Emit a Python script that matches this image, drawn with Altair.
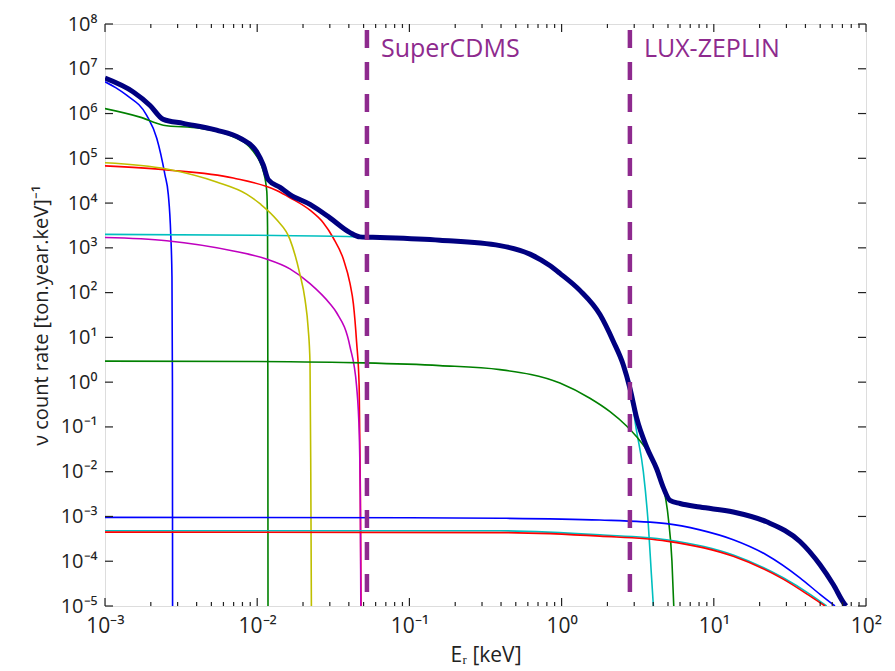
import altair as alt
import pandas as pd

# Readings are log10 values (x: log10 keV, y: log10 rate)
blue1_lx = [-3.0, -2.93, -2.858, -2.726, -2.66, -2.606, -2.584, -2.568, -2.56, -2.557, -2.556]
blue1_ly = [6.71, 6.58, 6.41, 5.96, 5.45, 4.63, 4.19, 3.3, 2.35, 0.0, -5.0]

green1_lx = [-3.0, -2.77, -2.617, -2.376, -2.157, -2.025, -1.96, -1.937, -1.932, -1.930, -1.929]
green1_ly = [6.11, 5.92, 5.74, 5.67, 5.48, 5.15, 4.71, 4.26, 3.46, 0.0, -5.0]

yellow_lx = [-3.0, -2.595, -2.267, -2.07, -1.98, -1.87, -1.785, -1.72, -1.686, -1.665, -1.653, -1.648, -1.644]
yellow_ly = [4.90, 4.76, 4.47, 4.20, 3.98, 3.62, 3.19, 2.42, 1.85, 1.2, 0.43, -2.0, -5.0]

red1_lx = [-3.0, -2.595, -2.157, -1.872, -1.785, -1.653, -1.566, -1.50, -1.434, -1.39, -1.368, -1.347, -1.33, -1.322, -1.318]
red1_ly = [4.83, 4.74, 4.56, 4.28, 4.12, 3.84, 3.56, 3.22, 2.75, 2.20, 1.75, 0.90, -0.10, -2.5, -5.0]

magenta_lx = [-3.0, -2.595, -2.157, -1.94, -1.785, -1.653, -1.522, -1.478, -1.39, -1.347, -1.329, -1.322, -1.319]
magenta_ly = [3.23, 3.16, 2.93, 2.75, 2.53, 2.20, 1.75, 1.55, 0.79, -0.09, -1.20, -3.0, -5.0]

cyan1_lx = [-3.0, -2.0, -1.5, -1.193, -0.8, -0.405, -0.208, -0.08, -0.011, 0.12, 0.252, 0.34, 0.405, 0.45, 0.493, 0.537, 0.57, 0.59, 0.603]
cyan1_ly = [3.30, 3.28, 3.26, 3.23, 3.16, 3.04, 2.85, 2.60, 2.42, 2.04, 1.50, 0.90, 0.38, -0.18, -1.1, -2.0, -3.2, -4.3, -5.0]

green2_lx = [-3.0, -2.0, -1.3, -0.8, -0.405, -0.011, 0.186, 0.318, 0.427, 0.493, 0.56, 0.625, 0.646, 0.70, 0.725, 0.737]
green2_ly = [0.47, 0.46, 0.43, 0.37, 0.28, -0.02, -0.36, -0.66, -0.98, -1.22, -1.52, -1.95, -2.12, -3.0, -4.0, -5.0]

blue2_lx = [-3.0, -1.0, -0.405, 0.252, 0.69, 0.909, 1.128, 1.347, 1.566, 1.698, 1.796]
blue2_ly = [-3.02, -3.03, -3.04, -3.08, -3.16, -3.30, -3.52, -3.86, -4.37, -4.74, -5.0]

cyan2_lx = [-3.0, -0.405, 0.252, 0.69, 1.128, 1.456, 1.633, 1.741]
cyan2_ly = [-3.32, -3.32, -3.41, -3.52, -3.86, -4.37, -4.74, -5.0]

red2_lx = [-3.0, -0.405, 0.252, 0.69, 1.128, 1.456, 1.633, 1.73]
red2_ly = [-3.35, -3.36, -3.44, -3.55, -3.89, -4.40, -4.78, -5.0]

total_lx = [-3.0, -2.814, -2.704, -2.617, -2.486, -2.267, -2.113, -2.004, -1.96, -1.927, -1.85, -1.785,
            -1.653, -1.522, -1.39, -1.325, -1.193, -0.8, -0.405, -0.208, -0.08, -0.011, 0.12, 0.252,
            0.34, 0.405, 0.45, 0.493, 0.56, 0.625, 0.668, 0.712, 0.778, 0.909, 1.128, 1.347, 1.566,
            1.698, 1.785, 1.862, 1.87]
total_ly = [6.79, 6.48, 6.18, 5.87, 5.78, 5.63, 5.45, 5.15, 4.85, 4.52, 4.35, 4.19,
            3.97, 3.67, 3.34, 3.245, 3.23, 3.17, 3.05, 2.86, 2.61, 2.43, 2.05, 1.51,
            0.91, 0.39, -0.15, -0.80, -1.46, -1.94, -2.35, -2.64, -2.71, -2.79, -2.90, -3.12, -3.56,
            -4.08, -4.52, -4.97, -5.0]

experiments = ["SuperCDMS", "LUX-ZEPLIN"]
experiment_thresholds = [0.0526, 2.81]

x_ticks_major = [1e-3, 1e-2, 1e-1, 1e0, 1e1, 1e2]
x_ticks_minor = [m * d for d in [1e-3, 1e-2, 1e-1, 1e0, 1e1] for m in range(2, 10)]
y_ticks_major = [10.0 ** k for k in range(-5, 9)]

series = [
    ("blue1", blue1_lx, blue1_ly, "#0000FF", 1.6),
    ("green1", green1_lx, green1_ly, "#008000", 1.6),
    ("red1", red1_lx, red1_ly, "#FF0000", 1.6),
    ("cyan1", cyan1_lx, cyan1_ly, "#00BFBF", 1.6),
    ("magenta", magenta_lx, magenta_ly, "#BF00BF", 1.6),
    ("yellow", yellow_lx, yellow_ly, "#BFBF00", 1.6),
    ("green2", green2_lx, green2_ly, "#008000", 1.6),
    ("blue2", blue2_lx, blue2_ly, "#0000FF", 1.6),
    ("cyan2", cyan2_lx, cyan2_ly, "#00BFBF", 1.6),
    ("red2", red2_lx, red2_ly, "#FF0000", 1.6),
    ("total", total_lx, total_ly, "#000080", 5.0),
]

W, H = 761, 582
FONT = "Open Sans"
PURPLE = "#8E2A8E"
INK = "#222222"

xscale = alt.Scale(type="log", domain=[1e-3, 1e2], nice=False)
yscale = alt.Scale(type="log", domain=[1e-5, 1e8], nice=False)

xsup = "['⁻³','⁻²','⁻¹','⁰','¹','²']"
ysup = "['⁻⁵','⁻⁴','⁻³','⁻²','⁻¹','⁰','¹','²','³','⁴','⁵','⁶','⁷','⁸']"

xaxis = alt.Axis(values=x_ticks_major, ticks=False, domain=False, grid=False,
                 labelExpr="'10' + " + xsup + "[round(log(datum.value)/LN10)+3]",
                 labelFont=FONT, labelFontSize=21, labelColor=INK, labelPadding=9,
                 title="Eᵣ [keV]", titleFont=FONT, titleFontSize=21, titleFontWeight="normal",
                 titleColor=INK, titlePadding=8, labelFlush=False)
yaxis = alt.Axis(values=y_ticks_major, ticks=False, domain=False, grid=False,
                 labelExpr="'10' + " + ysup + "[round(log(datum.value)/LN10)+5]",
                 labelFont=FONT, labelFontSize=20, labelColor=INK, labelPadding=8,
                 title="ν count rate [ton.year.keV]⁻¹", titleFont=FONT, titleFontSize=20,
                 titleFontWeight="normal", titleColor=INK, titlePadding=9, labelFlush=False)

X = lambda f="x:Q": alt.X(f, scale=xscale, axis=xaxis)
Y = lambda f="y:Q": alt.Y(f, scale=yscale, axis=yaxis)

layers = []
for name, lx, ly, color, w in series:
    df = pd.DataFrame({"x": [10.0 ** v for v in lx], "y": [10.0 ** v for v in ly], "order": range(len(lx))})
    layers.append(
        alt.Chart(df).mark_line(color=color, strokeWidth=w, clip=True, interpolate="monotone").encode(
            x=X(), y=Y(), order="order:Q")
    )

exp_df = pd.DataFrame({"x": experiment_thresholds, "name": experiments})
dashes = alt.Chart(exp_df).mark_rule(color=PURPLE, strokeWidth=4.5, strokeDash=[18, 14],
                                     strokeDashOffset=26).encode(x=X())
labels = alt.Chart(exp_df).mark_text(color=PURPLE, font=FONT, fontSize=25, align="left",
                                     baseline="alphabetic", dx=14).encode(
    x=X(), y=alt.value(33), text="name:N")

xmaj = pd.DataFrame({"x": x_ticks_major})
xmin = pd.DataFrame({"x": x_ticks_minor})
ymaj = pd.DataFrame({"y": y_ticks_major})
tick_style = dict(color=INK, strokeWidth=1.2)
ticks = [
    alt.Chart(xmaj).mark_rule(**tick_style).encode(x=X(), y=alt.value(H), y2=alt.value(H - 8)),
    alt.Chart(xmaj).mark_rule(**tick_style).encode(x=X(), y=alt.value(0), y2=alt.value(8)),
    alt.Chart(xmin).mark_rule(**tick_style).encode(x=X(), y=alt.value(H), y2=alt.value(H - 4)),
    alt.Chart(xmin).mark_rule(**tick_style).encode(x=X(), y=alt.value(0), y2=alt.value(4)),
    alt.Chart(ymaj).mark_rule(**tick_style).encode(y=Y(), x=alt.value(0), x2=alt.value(8)),
    alt.Chart(ymaj).mark_rule(**tick_style).encode(y=Y(), x=alt.value(W), x2=alt.value(W - 8)),
]

chart = alt.layer(*layers, dashes, labels, *ticks).properties(
    width=W, height=H,
    padding={"left": 97, "top": 16, "right": 20, "bottom": 60},
    autosize=alt.AutoSizeParams(type="none"),
).configure_view(stroke=INK, strokeWidth=1.5).configure(background="white")

chart.save("out.html", embed_options={"renderer": "svg", "actions": False})
